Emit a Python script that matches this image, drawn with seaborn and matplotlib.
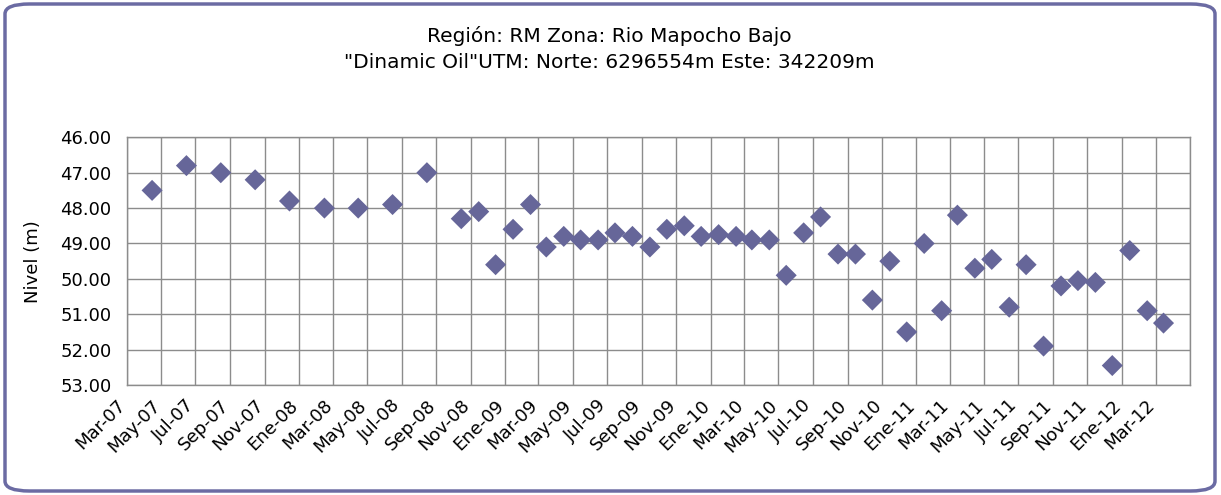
import pandas as pd
import seaborn as sns
import matplotlib.pyplot as plt
import matplotlib.transforms as mtransforms
from matplotlib.patches import FancyBboxPatch

# measurement dates (mid month) and water level (m)
fechas = ["2007-04-15", "2007-06-15", "2007-08-15", "2007-10-15", "2007-12-15",
          "2008-02-15", "2008-04-15", "2008-06-15", "2008-08-15",
          "2008-10-15", "2008-11-15", "2008-12-15",
          "2009-01-15", "2009-02-15", "2009-03-15", "2009-04-15", "2009-05-15", "2009-06-15",
          "2009-07-15", "2009-08-15", "2009-09-15", "2009-10-15", "2009-11-15", "2009-12-15",
          "2010-01-15", "2010-02-15", "2010-03-15", "2010-04-15", "2010-05-15", "2010-06-15",
          "2010-07-15", "2010-08-15", "2010-09-15", "2010-10-15", "2010-11-15", "2010-12-15",
          "2011-01-15", "2011-02-15", "2011-03-15", "2011-04-15", "2011-05-15", "2011-06-15",
          "2011-07-15", "2011-08-15", "2011-09-15", "2011-10-15", "2011-11-15", "2011-12-15",
          "2012-01-15", "2012-02-15", "2012-03-15"]
nivel = [47.5, 46.8, 47.0, 47.2, 47.8, 48.0, 48.0, 47.9, 47.0,
         48.3, 48.1, 49.6,
         48.6, 47.9, 49.1, 48.8, 48.9, 48.9,
         48.7, 48.8, 49.1, 48.6, 48.5, 48.8,
         48.75, 48.8, 48.9, 48.9, 49.9, 48.7,
         48.25, 49.3, 49.3, 50.6, 49.5, 51.5,
         49.0, 50.9, 48.2, 49.7, 49.45, 50.8,
         49.6, 51.9, 50.2, 50.05, 50.1, 52.45,
         49.2, 50.9, 51.25]

meses = {1: "Ene", 3: "Mar", 5: "May", 7: "Jul", 9: "Sep", 11: "Nov"}
ticks = pd.date_range("2007-03-01", "2012-05-01", freq="2MS")
tick_labels = [f"{meses[t.month]}-{t.year % 100:02d}" for t in ticks]
tick_labels[-1] = ""

df = pd.DataFrame({"fecha": pd.to_datetime(fechas), "nivel": nivel})

sns.set_style("white")
plt.rcParams["font.family"] = ["DejaVu Sans"]
plt.rcParams["text.color"] = "black"

fig = plt.figure(figsize=(12.21, 4.95), dpi=100)
ax = fig.add_axes([0.1038, 0.2222, 0.8708, 0.5004])

sns.scatterplot(data=df, x="fecha", y="nivel", marker="D", s=115,
                color="#666699", edgecolor="none", ax=ax, zorder=3)

ax.set_xlim(ticks[0], ticks[-1])
ax.set_ylim(53, 46)
ax.set_yticks(range(46, 54))
ax.set_yticklabels([f"{v:.2f}" for v in range(46, 54)])
ax.set_xticks(ticks)
ax.set_xticklabels(tick_labels, rotation=45, ha="right", rotation_mode="anchor")
ax.grid(True, color="#8c8c8c", linewidth=1)
ax.set_axisbelow(True)
for sp in ax.spines.values():
    sp.set_color("#8c8c8c")
    sp.set_linewidth(1)
ax.tick_params(axis="both", length=5, color="#8c8c8c", labelsize=13, labelcolor="black")
ax.tick_params(axis="y", pad=6)
ax.tick_params(axis="x", pad=6)
ax.set_xlabel("")
ax.set_ylabel("Nivel (m)", fontsize=13, labelpad=13, color="black")

# nudge rotated date labels left, like the original
shift = mtransforms.ScaledTranslation(-10 / 100, 4 / 100, fig.dpi_scale_trans)
for lab in ax.get_xticklabels():
    lab.set_transform(lab.get_transform() + shift)

fig.text(0.499, 1 - 36 / 495, "Región: RM Zona: Rio Mapocho Bajo", ha="center", va="center",
         fontsize=14.5)
fig.text(0.499, 1 - 62 / 495, "\"Dinamic Oil\"UTM: Norte: 6296554m Este: 342209m", ha="center",
         va="center", fontsize=14.5)

marco = FancyBboxPatch((5 / 1221, 4 / 495), 1210 / 1221, 487 / 495,
                       boxstyle="round,pad=0,rounding_size=0.02", transform=fig.transFigure,
                       facecolor="none", edgecolor="#6b6ba3", linewidth=2.5)
fig.patches.append(marco)

fig.savefig("out.png", dpi=100)
